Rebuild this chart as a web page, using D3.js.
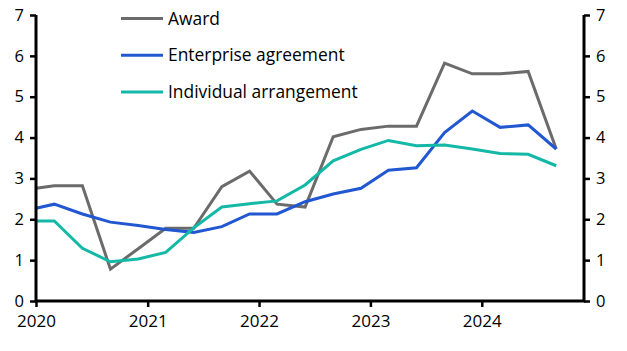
<!DOCTYPE html>
<html>
<head>
<meta charset="utf-8">
<script src="https://cdn.jsdelivr.net/npm/d3@7"></script>
<style>
  body { margin: 0; background: #fff; }
  text { font-family: "Open Sans", "Noto Sans", sans-serif; fill: #000; }
</style>
</head>
<body>
<script>
const w = 627
const h = 351
const margin = {top: 15, right: 43, bottom: 50, left: 36}

// quarterly data, first value is where the line meets the left edge
const dates = ["2020-01-01", "2020-03-01", "2020-06-01", "2020-09-01", "2020-12-01",
	"2021-03-01", "2021-06-01", "2021-09-01", "2021-12-01",
	"2022-03-01", "2022-06-01", "2022-09-01", "2022-12-01",
	"2023-03-01", "2023-06-01", "2023-09-01", "2023-12-01",
	"2024-03-01", "2024-06-01", "2024-09-01"]
const award = [2.76, 2.82, 2.82, 0.78, 1.28, 1.78, 1.78, 2.8, 3.18, 2.37, 2.3, 4.02, 4.2, 4.28, 4.28, 5.82, 5.56, 5.56, 5.62, 3.72]
const enterprise = [2.27, 2.37, 2.13, 1.93, 1.85, 1.75, 1.68, 1.82, 2.13, 2.13, 2.43, 2.62, 2.76, 3.2, 3.26, 4.12, 4.65, 4.25, 4.31, 3.72]
const individual = [1.96, 1.96, 1.29, 0.96, 1.03, 1.19, 1.79, 2.3, 2.38, 2.45, 2.84, 3.43, 3.71, 3.93, 3.8, 3.82, 3.72, 3.61, 3.59, 3.31]
const yTicks = [0, 1, 2, 3, 4, 5, 6, 7]
const xTicks = ["2020", "2021", "2022", "2023", "2024"]

const seriesNames = ["Award", "Enterprise agreement", "Individual arrangement"]
const seriesColors = ["#6b6b6b", "#2157d0", "#14b8a6"]
const seriesValues = [award, enterprise, individual]

let parseDate = d3.timeParse("%Y-%m-%d")

let series = seriesNames.map((name, i) => ({
	name: name,
	color: seriesColors[i],
	values: dates.map((d, j) => ({date: parseDate(d), value: seriesValues[i][j]}))
}))

let svg = d3.select("body")
	.append("svg")
	.attr("width", w)
	.attr("height", h)

let xScale = d3.scaleTime()
	.domain([parseDate("2020-01-01"), parseDate("2024-12-01")])
	.range([margin.left, w - margin.right])

let yScale = d3.scaleLinear()
	.domain([0, 7])
	.range([h - margin.bottom, margin.top])

// lines
let line = d3.line()
	.x(d => xScale(d.date))
	.y(d => yScale(d.value))

svg.selectAll("path.series")
	.data(series)
	.enter()
	.append("path")
	.attr("class", "series")
	.attr("fill", "none")
	.attr("stroke", d => d.color)
	.attr("stroke-width", 3)
	.attr("stroke-linejoin", "miter")
	.attr("d", d => line(d.values))

// axes
let leftAxis = d3.axisLeft(yScale).tickValues(yTicks).tickFormat(d3.format("d")).tickSize(6).tickPadding(6)
let rightAxis = d3.axisRight(yScale).tickValues(yTicks).tickFormat(d3.format("d")).tickSize(6).tickPadding(6)
let bottomAxis = d3.axisBottom(xScale)
	.tickValues(xTicks.map(t => d3.timeParse("%Y")(t)))
	.tickFormat(d3.timeFormat("%Y"))
	.tickSize(6)
	.tickPadding(8)

function styleAxis(g) {
	g.select(".domain").remove()
	g.selectAll(".tick line").attr("stroke", "#000").attr("stroke-width", 2.5)
	g.selectAll(".tick text").attr("font-size", 16.5).attr("fill", "#000")
}

svg.append("g")
	.attr("transform", "translate(" + margin.left + ",0)")
	.call(leftAxis)
	.call(styleAxis)

svg.append("g")
	.attr("transform", "translate(" + (w - margin.right) + ",0)")
	.call(rightAxis)
	.call(styleAxis)

svg.append("g")
	.attr("transform", "translate(0," + (h - margin.bottom) + ")")
	.call(bottomAxis)
	.call(styleAxis)
	.selectAll(".tick text").attr("font-size", 17)

// axis frame lines (left, right, bottom)
let y0 = yScale(0), y7 = yScale(7)
let x0 = xScale.range()[0], x1 = xScale.range()[1]
svg.append("path")
	.attr("fill", "none")
	.attr("stroke", "#000")
	.attr("stroke-width", 3)
	.attr("d", "M" + x0 + "," + y7 + "V" + y0 + "H" + x1 + "V" + y7)

// legend
let legend = svg.selectAll("g.legend")
	.data(series)
	.enter()
	.append("g")
	.attr("class", "legend")
	.attr("transform", (d, i) => "translate(121," + (18.5 + i * 36.7) + ")")

legend.append("line")
	.attr("x1", 0)
	.attr("x2", 42)
	.attr("stroke", d => d.color)
	.attr("stroke-width", 3)

legend.append("text")
	.attr("x", 47)
	.attr("dy", "0.35em")
	.attr("font-size", 17.4)
	.text(d => d.name)
</script>
</body>
</html>
